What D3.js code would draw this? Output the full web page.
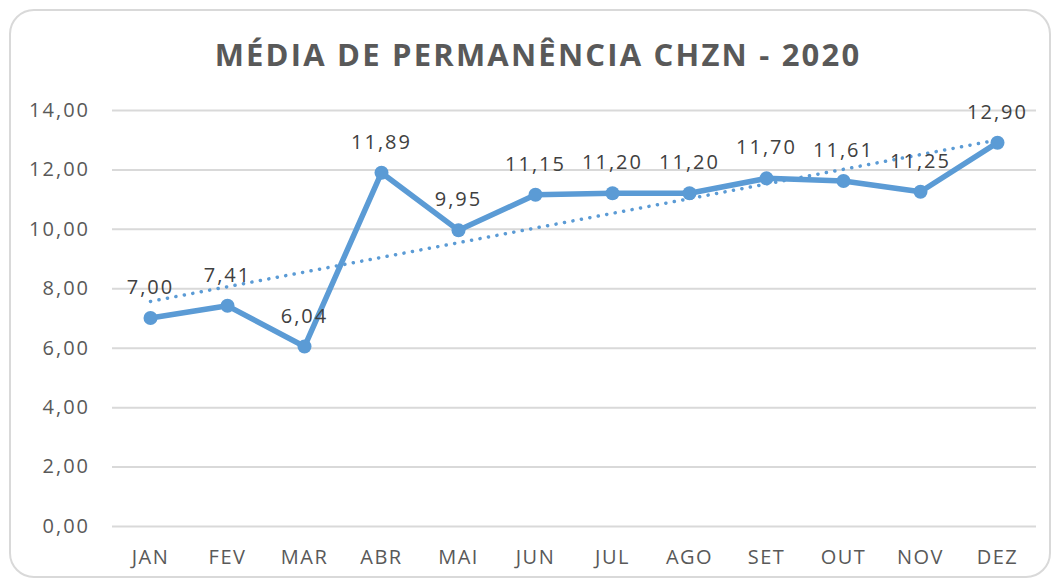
<!DOCTYPE html>
<html>
<head>
<meta charset="utf-8">
<script src="https://cdn.jsdelivr.net/npm/d3@7"></script>
<style>
  body { margin: 0; background: #fff; }
  text { font-family: "Open Sans", sans-serif; }
</style>
</head>
<body>
<div id="chart"></div>
<script>
// chart data
const months = ["JAN", "FEV", "MAR", "ABR", "MAI", "JUN", "JUL", "AGO", "SET", "OUT", "NOV", "DEZ"];
const values = [7.00, 7.41, 6.04, 11.89, 9.95, 11.15, 11.20, 11.20, 11.70, 11.61, 11.25, 12.90];
const yTicks = [0, 2, 4, 6, 8, 10, 12, 14];
const title = "MÉDIA DE PERMANÊNCIA CHZN - 2020";

const W = 1056, H = 580;
const fmt = v => v.toFixed(2).replace(".", ",");

const svg = d3.select("#chart").append("svg")
    .attr("width", W)
    .attr("height", H);

// outer frame
svg.append("rect")
    .attr("x", 10).attr("y", 10)
    .attr("width", 1040).attr("height", 567)
    .attr("rx", 24)
    .attr("fill", "#fff")
    .attr("stroke", "#d9d9d9")
    .attr("stroke-width", 2);

svg.append("text")
    .attr("x", 538).attr("y", 66)
    .attr("text-anchor", "middle")
    .attr("font-size", 31)
    .attr("font-weight", "bold")
    .attr("fill", "#595959")
    .attr("letter-spacing", 2.2)
    .text(title);

const x = d3.scaleBand()
    .domain(months)
    .range([112, 1036]);

const y = d3.scaleLinear()
    .domain([0, 14])
    .range([526, 110]);

// gridlines + y labels
const yAxis = svg.append("g")
    .attr("transform", "translate(112,0)")
    .call(d3.axisLeft(y).tickValues(yTicks).tickFormat(fmt).tickSize(-(1036 - 112)).tickPadding(22));
yAxis.select(".domain").remove();
yAxis.selectAll("line").attr("stroke", "#d9d9d9").attr("stroke-width", 2);
yAxis.selectAll("text")
    .attr("font-size", 20)
    .attr("fill", "#595959")
    .attr("letter-spacing", 2)
    .attr("font-family", "Open Sans, sans-serif");

const xAxis = svg.append("g")
    .attr("transform", "translate(0,526)")
    .call(d3.axisBottom(x).tickSize(0).tickPadding(24));
xAxis.select(".domain").remove();
xAxis.selectAll("text")
    .attr("font-size", 20)
    .attr("fill", "#595959")
    .attr("letter-spacing", 1.5)
    .attr("font-family", "Open Sans, sans-serif");

const cx = (d, i) => x(months[i]) + x.bandwidth() / 2;

// linear trend line
const n = values.length;
const xm = (n + 1) / 2;
const ym = d3.mean(values);
const slope = d3.sum(values, (v, i) => (i + 1 - xm) * (v - ym)) / d3.sum(values, (v, i) => (i + 1 - xm) ** 2);
const trend = [1, n].map(k => ({i: k - 1, v: ym + slope * (k - xm)}));

svg.append("path")
    .datum(trend)
    .attr("fill", "none")
    .attr("stroke", "#5b9bd5")
    .attr("stroke-width", 3.5)
    .attr("stroke-dasharray", "0.1,8.5")
    .attr("stroke-linecap", "round")
    .attr("d", d3.line().x(d => x(months[d.i]) + x.bandwidth() / 2).y(d => y(d.v)));

const line = d3.line()
    .x(cx)
    .y(d => y(d));

svg.append("path")
    .datum(values)
    .attr("fill", "none")
    .attr("stroke", "#5b9bd5")
    .attr("stroke-width", 5.5)
    .attr("stroke-linejoin", "round")
    .attr("d", line);

svg.selectAll(".pt")
    .data(values)
    .join("circle")
    .attr("cx", cx)
    .attr("cy", d => y(d))
    .attr("r", 7)
    .attr("fill", "#5b9bd5");

svg.selectAll(".lbl")
    .data(values)
    .join("text")
    .attr("x", cx)
    .attr("y", d => y(d) - 24)
    .attr("text-anchor", "middle")
    .attr("font-size", 20)
    .attr("letter-spacing", 2)
    .attr("fill", "#404040")
    .text(fmt);
</script>
</body>
</html>
